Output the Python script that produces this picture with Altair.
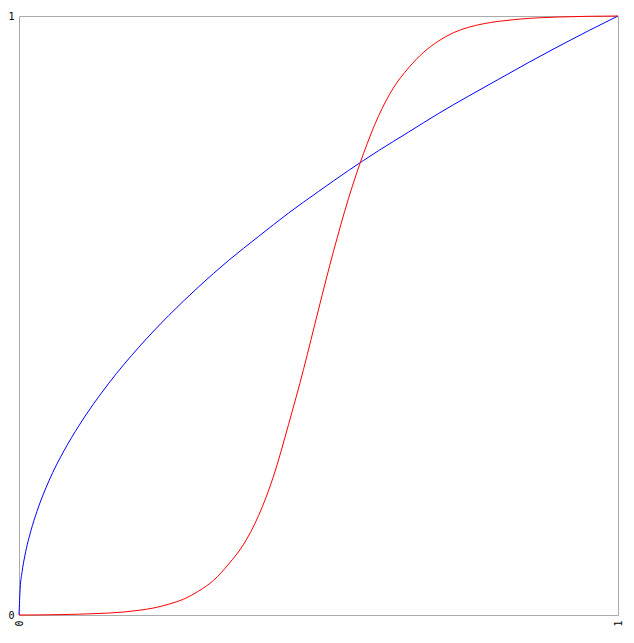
import altair as alt
import pandas as pd

# Blue curve
blue_x = [0, 0.002, 0.005, 0.01, 0.02, 0.03, 0.05, 0.075, 0.1, 0.15, 0.2, 0.25, 0.3,
          0.35, 0.4, 0.45, 0.5, 0.55, 0.6, 0.65, 0.7, 0.75, 0.8, 0.85, 0.9, 0.95, 1.0]
blue_y = [0, 0.045, 0.071, 0.1, 0.141, 0.173, 0.224, 0.274, 0.316, 0.387, 0.447, 0.5, 0.548,
          0.592, 0.632, 0.671, 0.707, 0.742, 0.775, 0.806, 0.837, 0.866, 0.894, 0.922, 0.949, 0.975, 1.0]

# Red curve
red_x = [0, 0.025, 0.05, 0.075, 0.1, 0.125, 0.15, 0.175, 0.2, 0.225, 0.25, 0.275, 0.3,
         0.325, 0.35, 0.375, 0.4, 0.425, 0.45, 0.475, 0.5, 0.525, 0.55, 0.575, 0.6,
         0.625, 0.65, 0.675, 0.7, 0.725, 0.75, 0.775, 0.8, 0.825, 0.85, 0.875, 0.9, 0.95, 1.0]
red_y = [0, 0.0001, 0.0004, 0.0008, 0.0014, 0.0022, 0.0033, 0.005, 0.0078, 0.0118, 0.018, 0.0265, 0.040,
         0.058, 0.085, 0.118, 0.166, 0.232, 0.318, 0.41, 0.51, 0.607, 0.695, 0.770, 0.8325,
         0.880, 0.913, 0.939, 0.958, 0.972, 0.981, 0.987, 0.991, 0.9938, 0.996, 0.9973, 0.9983, 0.9995, 1.0]

tick_values = [0, 1]

blue_df = pd.DataFrame({"x": blue_x, "y": blue_y})
red_df = pd.DataFrame({"x": red_x, "y": red_y})

font = "DejaVu Sans Mono"
xs = alt.X("x:Q", scale=alt.Scale(domain=[0, 1], nice=False, zero=False),
           axis=alt.Axis(values=tick_values, title=None, grid=False, ticks=False, domain=False,
                         labelAngle=270, labelPadding=5, labelFont=font, labelFontSize=10,
                         labelColor="black", format="d"))
ys = alt.Y("y:Q", scale=alt.Scale(domain=[0, 1], nice=False, zero=False),
           axis=alt.Axis(values=tick_values, title=None, grid=False, ticks=False, domain=False,
                         labelPadding=5, labelFont=font, labelFontSize=10,
                         labelColor="black", format="d"))

blue = alt.Chart(blue_df).mark_line(color="#0000ff", strokeWidth=1, interpolate="monotone").encode(x=xs, y=ys)
red = alt.Chart(red_df).mark_line(color="#ff0000", strokeWidth=1, interpolate="monotone").encode(x=xs, y=ys)

chart = alt.layer(blue, red).properties(
    width=599, height=599, autosize="none",
    padding={"left": 11, "top": 8, "right": 8, "bottom": 20},
).configure_view(stroke="#aaaaaa", strokeWidth=1)

chart.save("out.html", embed_options={"renderer": "svg", "actions": False})
